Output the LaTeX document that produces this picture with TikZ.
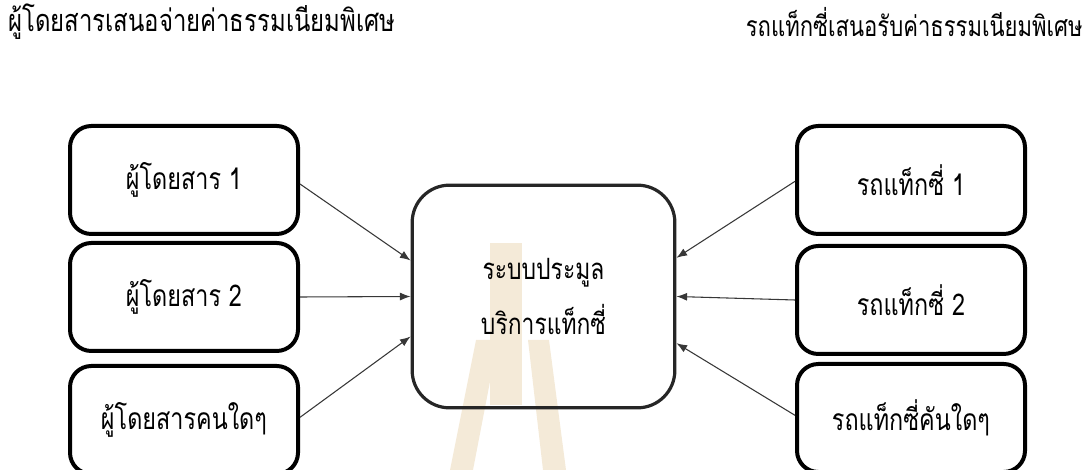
\documentclass[tikz,border=0pt]{standalone}
\usepackage{fontspec}
\newfontfamily\thai[Script=Thai,FakeStretch=0.78]{Loma}
\usetikzlibrary{arrows.meta,calc}
\definecolor{wm}{RGB}{244,234,216}
\definecolor{arr}{RGB}{55,55,55}
\tikzset{
  sbox/.style={draw=black,line width=3pt,rounded corners=16pt,minimum width=171pt,minimum height=81pt,inner sep=0pt,font=\thai\fontsize{22.5}{26}\selectfont},
  cbox/.style={draw=black!85,line width=2.4pt,rounded corners=28pt,minimum width=197pt,minimum height=167pt,inner sep=0pt,align=center,font=\thai\fontsize{22}{41}\selectfont},
  ttl/.style={font=\thai\fontsize{23}{26}\selectfont,inner sep=0pt},
  ttlr/.style={font=\thai\fontsize{21.2}{26}\selectfont,inner sep=0pt},
  conn/.style={draw=arr,line width=0.8pt,-{Latex[length=8pt,width=6pt]}}
}
\begin{document}
\begin{tikzpicture}[x=0.75pt,y=-0.75pt]
\useasboundingbox (0,0) rectangle (1086,470);
% watermark
\fill[wm] (490,243) rectangle (522,405);
\fill[wm] (476,340) -- (498,340) -- (473,470) -- (450,470) -- cycle;
\fill[wm] (528,340) -- (549,340) -- (566,470) -- (543,470) -- cycle;
% titles
\node[ttl,anchor=west] (tl) at (8,22) {ผู้โดยสารเสนอจ่ายค่าธรรมเนียมพิเศษ};
\node[ttlr,anchor=east] (tr) at (1083,22) {รถแท็กซี่เสนอรับค่าธรรมเนียมพิเศษ};
% boxes
\node[sbox] (l1) at (184,180) {ผู้โดยสาร 1};
\node[sbox] (l2) at (184,297) {ผู้โดยสาร 2};
\node[sbox] (l3) at (184,420) {ผู้โดยสารคนใดๆ};
\node[sbox] (r1) at (911,180) {รถแท็กซี่ 1};
\node[sbox] (r2) at (911,300) {รถแท็กซี่ 2};
\node[sbox] (r3) at (911,418) {รถแท็กซี่คันใดๆ};
\node[cbox] (c) at (543.5,296.5) {ระบบประมูล\\บริการแท็กซี่};
% connectors
\draw[conn] ([yshift=-3pt]l1.east) -- ([yshift=27pt]c.west);
\draw[conn] (l2.east) -- (c.west);
\draw[conn] ([yshift=2pt]l3.east) -- ([yshift=-30pt]c.west);
\draw[conn] ([yshift=-1pt]r1.west) -- ([yshift=29pt]c.east);
\draw[conn] (r2.west) -- (c.east);
\draw[conn] ([yshift=2pt]r3.west) -- ([yshift=-35pt]c.east);
\end{tikzpicture}
\end{document}
